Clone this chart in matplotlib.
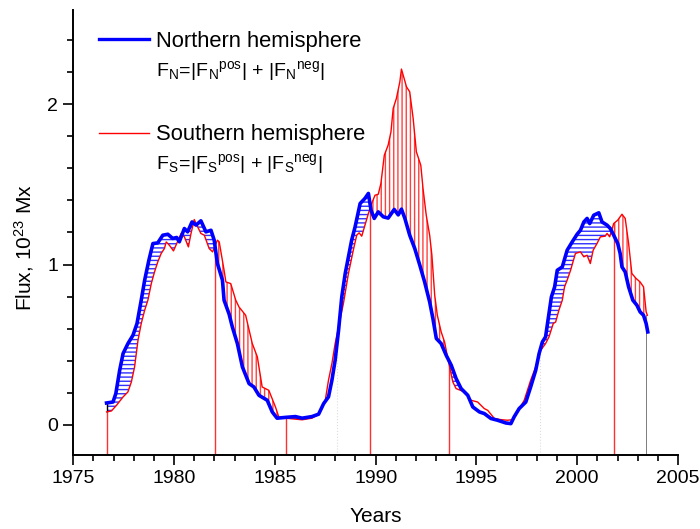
import numpy as np
import matplotlib
matplotlib.use('Agg')
import matplotlib.pyplot as plt
from matplotlib.lines import Line2D
from matplotlib.ticker import MultipleLocator

plt.rcParams['font.family'] = ['Liberation Sans', 'DejaVu Sans']
plt.rcParams['mathtext.fontset'] = 'custom'
plt.rcParams['mathtext.rm'] = 'Liberation Sans'
plt.rcParams['mathtext.it'] = 'Liberation Sans:italic'
plt.rcParams['mathtext.bf'] = 'Liberation Sans:bold'
plt.rcParams['hatch.linewidth'] = 1.0

# ---------------- data ----------------
N_years = [1976.65, 1976.97, 1977.11, 1977.30, 1977.47, 1977.71, 1977.96, 1978.16, 1978.37, 1978.54,
           1978.75, 1978.95, 1979.19, 1979.44, 1979.69, 1979.93, 1980.13, 1980.26, 1980.51, 1980.67,
           1980.89, 1981.09, 1981.33, 1981.58, 1981.83, 1981.99, 1982.15, 1982.40, 1982.48, 1982.73,
           1982.89, 1983.14, 1983.39, 1983.72, 1983.96, 1984.21, 1984.62, 1984.87, 1985.11, 1985.53,
           1986.02, 1986.35, 1986.84, 1987.17, 1987.42, 1987.66, 1987.83, 1987.99, 1988.16, 1988.32,
           1988.49, 1988.65, 1988.81, 1988.98, 1989.23, 1989.47, 1989.64, 1989.77, 1989.93, 1990.13,
           1990.38, 1990.62, 1990.92, 1991.12, 1991.28, 1991.45, 1991.69, 1991.94, 1992.19, 1992.43,
           1992.68, 1992.84, 1993.01, 1993.25, 1993.50, 1993.75, 1993.99, 1994.24, 1994.57, 1994.82,
           1995.15, 1995.39, 1995.72, 1996.05, 1996.46, 1996.71, 1996.87, 1997.12, 1997.45, 1997.69,
           1997.94, 1998.11, 1998.27, 1998.43, 1998.55, 1998.72, 1998.88, 1999.01, 1999.26, 1999.50,
           1999.75, 2000.00, 2000.16, 2000.33, 2000.49, 2000.62, 2000.82, 2001.07, 2001.23, 2001.48,
           2001.64, 2001.81, 2002.01, 2002.13, 2002.22, 2002.38, 2002.55, 2002.76, 2002.96, 2003.12,
           2003.29, 2003.42, 2003.50]
N_flux = [0.135, 0.141, 0.194, 0.339, 0.444, 0.506, 0.558, 0.631, 0.777, 0.902,
          1.027, 1.131, 1.135, 1.183, 1.189, 1.163, 1.169, 1.142, 1.225, 1.204,
          1.266, 1.246, 1.273, 1.204, 1.214, 1.152, 1.006, 0.902, 0.777, 0.690,
          0.610, 0.506, 0.360, 0.256, 0.235, 0.183, 0.152, 0.079, 0.040, 0.045,
          0.050, 0.040, 0.050, 0.065, 0.131, 0.173, 0.277, 0.402, 0.589, 0.798,
          0.944, 1.048, 1.152, 1.235, 1.381, 1.413, 1.444, 1.339, 1.288, 1.329,
          1.298, 1.290, 1.344, 1.310, 1.346, 1.288, 1.183, 1.100, 0.996, 0.891,
          0.766, 0.663, 0.538, 0.506, 0.433, 0.371, 0.288, 0.225, 0.183, 0.110,
          0.079, 0.069, 0.038, 0.027, 0.010, 0.006, 0.048, 0.100, 0.141, 0.235,
          0.339, 0.444, 0.516, 0.548, 0.652, 0.798, 0.860, 0.964, 0.985, 1.089,
          1.141, 1.190, 1.214, 1.266, 1.288, 1.256, 1.308, 1.323, 1.266, 1.246,
          1.225, 1.183, 1.131, 1.069, 0.985, 0.954, 0.860, 0.777, 0.746, 0.704,
          0.683, 0.631, 0.579]

S_years = [1976.65, 1976.89, 1977.14, 1977.47, 1977.71, 1977.88, 1978.04, 1978.21, 1978.37, 1978.54,
           1978.70, 1978.87, 1979.03, 1979.19, 1979.36, 1979.52, 1979.61, 1979.77, 1979.97, 1980.13,
           1980.35, 1980.51, 1980.71, 1980.84, 1981.00, 1981.17, 1981.33, 1981.50, 1981.74, 1981.91,
           1982.15, 1982.24, 1982.48, 1982.57, 1982.81, 1983.06, 1983.22, 1983.55, 1983.88, 1984.13,
           1984.37, 1984.70, 1985.03, 1985.20, 1985.53, 1986.35, 1986.84, 1987.17, 1987.33, 1987.50,
           1987.66, 1987.83, 1987.99, 1988.16, 1988.40, 1988.65, 1988.89, 1989.06, 1989.18, 1989.31,
           1989.47, 1989.64, 1989.80, 1989.97, 1990.13, 1990.26, 1990.43, 1990.62, 1990.76, 1990.87,
           1991.03, 1991.20, 1991.28, 1991.41, 1991.53, 1991.69, 1991.86, 1992.02, 1992.24, 1992.35,
           1992.51, 1992.68, 1992.79, 1992.93, 1993.06, 1993.25, 1993.42, 1993.58, 1993.83, 1993.99,
           1994.41, 1994.73, 1995.06, 1995.39, 1995.56, 1995.89, 1996.21, 1996.54, 1996.79, 1997.04,
           1997.37, 1997.69, 1997.94, 1998.19, 1998.43, 1998.60, 1998.81, 1998.93, 1999.09, 1999.26,
           1999.37, 1999.50, 1999.67, 1999.91, 2000.16, 2000.33, 2000.49, 2000.65, 2000.79, 2000.98,
           2001.15, 2001.39, 2001.48, 2001.61, 2001.81, 2002.01, 2002.22, 2002.38, 2002.55, 2002.71,
           2002.92, 2003.12, 2003.29, 2003.42, 2003.48]
S_flux = [0.079, 0.085, 0.120, 0.173, 0.204, 0.266, 0.360, 0.527, 0.631, 0.714,
          0.777, 0.881, 0.954, 1.016, 1.069, 1.100, 1.141, 1.120, 1.085, 1.131,
          1.194, 1.173, 1.110, 1.194, 1.281, 1.235, 1.194, 1.183, 1.100, 1.079,
          1.152, 1.141, 0.964, 0.891, 0.881, 0.777, 0.735, 0.683, 0.506, 0.423,
          0.235, 0.214, 0.110, 0.045, 0.040, 0.030, 0.040, 0.065, 0.100, 0.152,
          0.277, 0.381, 0.506, 0.610, 0.756, 0.944, 1.089, 1.183, 1.198, 1.177,
          1.246, 1.319, 1.381, 1.433, 1.439, 1.506, 1.683, 1.746, 1.829, 1.975,
          2.038, 2.141, 2.221, 2.163, 2.110, 2.079, 1.913, 1.704, 1.620, 1.475,
          1.308, 1.183, 1.058, 0.808, 0.683, 0.579, 0.516, 0.413, 0.266, 0.225,
          0.204, 0.152, 0.141, 0.100, 0.089, 0.038, 0.031, 0.027, 0.031, 0.079,
          0.152, 0.277, 0.360, 0.464, 0.506, 0.548, 0.631, 0.641, 0.714, 0.777,
          0.860, 0.902, 0.964, 1.069, 1.079, 1.048, 1.058, 1.006, 1.089, 1.131,
          1.173, 1.177, 1.194, 1.173, 1.256, 1.277, 1.314, 1.288, 1.131, 0.944,
          0.913, 0.891, 0.860, 0.704, 0.683]

# boundaries of alternating shaded intervals (crossing epochs)
boundaries = [1976.69, 1982.05, 1985.57, 1989.73, 1993.64, 2001.82, 2003.47]
faint_years = [1988.07, 1998.14]

x_ticks = [1975, 1980, 1985, 1990, 1995, 2000, 2005]
y_ticks = [0, 1, 2]
xlim = (1975, 2005)
ylim = (-0.19, 2.59)

# ---------------- figure ----------------
W, H = 700, 529
X0, X1 = 73.3, 678.0
fig = plt.figure(figsize=(W / 100, H / 100), dpi=100)
ax = fig.add_axes([X0 / W, 74 / H, (X1 - X0) / W, 445 / H])

blue = '#0000ff'
red = '#ff0000'

grid = np.linspace(max(N_years[0], S_years[0]), min(N_years[-1], S_years[-1]), 4000)
Ng = np.interp(grid, N_years, N_flux)
Sg = np.interp(grid, S_years, S_flux)
for i in range(len(boundaries) - 1):
    a, b = boundaries[i], boundaries[i + 1]
    m = (grid >= a) & (grid <= b)
    if i % 2 == 0:
        ax.fill_between(grid, Ng, Sg, where=m & (Ng >= Sg), interpolate=True,
                        facecolor='none', edgecolor='#3030ff', hatch='----', linewidth=0, zorder=1)
    else:
        ax.fill_between(grid, Ng, Sg, where=m & (Sg >= Ng), interpolate=True,
                        facecolor='none', edgecolor='#ff4040', hatch='||||', linewidth=0, zorder=1)

# vertical marker lines at interval boundaries
bx = np.array(boundaries[:-1])
ax.vlines(bx, ylim[0], np.interp(bx, S_years, S_flux), colors='#ff3030', lw=1.0, zorder=2)
ax.vlines([boundaries[0]], np.interp(boundaries[0], S_years, S_flux),
          np.interp(boundaries[0], N_years, N_flux), colors='k', lw=1.0, zorder=2)
# end bar
ax.fill_between([S_years[-1] - 0.08, S_years[-1]], ylim[0], S_flux[-1], color='#808080',
                linewidth=0, zorder=2)
# faint dotted lines
ax.vlines(faint_years, ylim[0], np.interp(faint_years, N_years, N_flux), colors='#dddddd',
          lw=0.8, linestyles=':', zorder=0)

ax.plot(S_years, S_flux, color=red, lw=1.0, zorder=3)
ax.plot(N_years, N_flux, color=blue, lw=2.6, zorder=4, solid_joinstyle='round')

ax.set_xlim(*xlim)
ax.set_ylim(*ylim)
ax.set_xticks(x_ticks)
ax.set_yticks(y_ticks)
ax.xaxis.set_minor_locator(MultipleLocator(1))
ax.yaxis.set_minor_locator(MultipleLocator(0.2))
ax.tick_params(which='major', direction='out', length=7, width=1.2, labelsize=14, pad=4)
ax.tick_params(which='minor', direction='out', length=4, width=1.2)
for s in ['top', 'right']:
    ax.spines[s].set_visible(False)
for s in ['left', 'bottom']:
    ax.spines[s].set_linewidth(1.4)

ax.set_xlabel('Years', fontsize=15)
ax.xaxis.set_label_coords(0.5, (455 - 507) / 445)
ax.set_ylabel(r'Flux, 10$^{23}$ Mx', fontsize=15)
ax.yaxis.set_label_coords((36 - X0) / (X1 - X0), 0.465)

# legend drawn manually
def fx(px):
    return px / W

def fy(py):
    return 1 - py / H

fig.add_artist(Line2D([fx(99), fx(149)], [fy(39), fy(39)], color=blue, lw=2.4,
                      transform=fig.transFigure))
fig.add_artist(Line2D([fx(99), fx(149)], [fy(132.7), fy(132.7)], color=red, lw=1.0,
                      transform=fig.transFigure))
fig.text(fx(156), fy(46.7), 'Northern hemisphere', fontsize=15.8, va='baseline', ha='left')
fig.text(fx(156), fy(76), r'$\mathregular{F_N\!{=}\!|F_N{}^{pos}|\ {+}\ |F_N{}^{neg}|}$',
         fontsize=14, va='baseline', ha='left')
fig.text(fx(156), fy(140), 'Southern hemisphere', fontsize=15.8, va='baseline', ha='left')
fig.text(fx(156), fy(168.5), r'$\mathregular{F_S\!{=}\!|F_S{}^{pos}|\ {+}\ |F_S{}^{neg}|}$',
         fontsize=14, va='baseline', ha='left')

fig.savefig('out.png', dpi=100)
